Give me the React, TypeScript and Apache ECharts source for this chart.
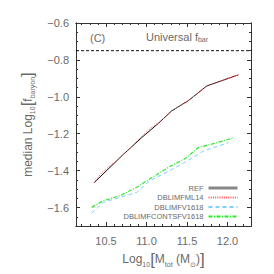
import React, { useEffect, useRef } from "react";
import * as echarts from "echarts";

const xRef = [10.352, 10.714, 10.941, 11.146, 11.311, 11.516, 11.744, 12.134];
const yRef = [-1.466, -1.312, -1.221, -1.144, -1.076, -1.021, -0.941, -0.881];
const xML14 = [10.352, 10.45, 10.714, 10.941, 11.05, 11.146, 11.311, 11.516, 11.744, 12.134];
const yML14 = [-1.466, -1.41, -1.315, -1.214, -1.17, -1.142, -1.078, -1.02, -0.943, -0.881];
const xV1618 = [10.324, 10.467, 10.673, 10.879, 11.044, 11.291, 11.476, 11.702, 12.015];
const yV1618 = [-1.63, -1.572, -1.545, -1.518, -1.454, -1.399, -1.354, -1.294, -1.248];
const xCont = [10.324, 10.467, 10.673, 10.879, 11.044, 11.291, 11.476, 11.64, 11.825, 12.072];
const yCont = [-1.599, -1.563, -1.536, -1.49, -1.444, -1.377, -1.335, -1.275, -1.254, -1.223];
const universalFbar = -0.75;

const xMin = 10.13;
const xMax = 12.29;
const yMin = -1.7;
const yMax = -0.6;
const xMajor = [10.5, 11.0, 11.5, 12.0];
const xMinor = [10.2, 10.3, 10.4, 10.6, 10.7, 10.8, 10.9, 11.1, 11.2, 11.3, 11.4, 11.6, 11.7, 11.8, 11.9, 12.1, 12.2];
const yMajor = [-1.6, -1.4, -1.2, -1.0, -0.8, -0.6];
const yMinor = [-1.65, -1.55, -1.5, -1.45, -1.35, -1.3, -1.25, -1.15, -1.1, -1.05, -0.95, -0.9, -0.85, -0.75, -0.7, -0.65];

const FONT = "Liberation Sans";
const TXT = "#6a6a6a";
const AX = "#333";

const zip = (xs: number[], ys: number[]) => xs.map((x, i) => [x, ys[i]]);

export default function App() {
  const ref = useRef<HTMLDivElement>(null);
  useEffect(() => {
    const chart = echarts.init(ref.current!, null, { renderer: "svg" });
    const rich = {
      sub: { fontSize: 7, color: TXT, fontFamily: FONT, verticalAlign: "bottom", padding: [8, 0, 0, 0] },
      br: { fontSize: 17, color: TXT, fontFamily: FONT },
    };
    const baseX = (pos: "bottom" | "top", ticks: number[], len: number, labels: boolean, name?: boolean) => ({
      type: "value",
      position: pos,
      min: xMin,
      max: xMax,
      axisLine: { show: true, onZero: false, lineStyle: { color: AX, width: 1 } },
      axisTick: { show: true, inside: true, length: len, customValues: ticks, lineStyle: { color: AX } },
      axisLabel: labels
        ? { show: true, customValues: ticks, margin: 9, color: TXT, fontFamily: FONT, fontSize: 11, formatter: (v: number) => v.toFixed(1) }
        : { show: false },
      splitLine: { show: false },
      name: name ? "Log{sub|10}{br|[}M{sub|tot} (M{sub|⊙}){br|]}" : "",
      nameLocation: "middle",
      nameGap: 22,
      nameTextStyle: { color: TXT, fontFamily: FONT, fontSize: 12, rich },
    });
    const baseY = (pos: "left" | "right", ticks: number[], len: number, labels: boolean, name?: boolean) => ({
      type: "value",
      position: pos,
      min: yMin,
      max: yMax,
      axisLine: { show: true, onZero: false, lineStyle: { color: AX, width: 1 } },
      axisTick: { show: true, inside: true, length: len, customValues: ticks, lineStyle: { color: AX } },
      axisLabel: labels
        ? {
            show: true,
            customValues: ticks,
            margin: 7,
            color: TXT,
            fontFamily: FONT,
            fontSize: 11,
            formatter: (v: number) => (v < 0 ? "\u2212" : "") + Math.abs(v).toFixed(1),
          }
        : { show: false },
      splitLine: { show: false },
      name: name ? "median Log{sub|10}{br|[}f{sub|baryon}{br|]}" : "",
      nameLocation: "middle",
      nameGap: 40,
      nameTextStyle: { color: TXT, fontFamily: FONT, fontSize: 12, rich },
    });
    const line = (name: string, data: number[][], color: string, type: any, width = 1) => ({
      name,
      type: "line",
      data,
      showSymbol: false,
      symbol: "none",
      xAxisIndex: 0,
      yAxisIndex: 0,
      lineStyle: { color, width, type },
      itemStyle: { color },
      z: 3,
    });
    chart.setOption({
      animation: false,
      grid: { left: 76, right: 23, top: 23, bottom: 48 },
      xAxis: [
        baseX("bottom", xMajor, 4, true, true),
        baseX("bottom", xMinor, 2, false),
        baseX("top", xMajor, 4, false),
        baseX("top", xMinor, 2, false),
      ],
      yAxis: [
        baseY("left", yMajor, 4, true, true),
        baseY("left", yMinor, 2, false),
        baseY("right", yMajor, 4, false),
        baseY("right", yMinor, 2, false),
      ],
      legend: {
        orient: "vertical",
        right: 35,
        top: 184,
        align: "right",
        itemWidth: 29,
        itemHeight: 6,
        itemGap: 1.5,
        padding: 0,
        itemStyle: { opacity: 0 },
        textStyle: { color: TXT, fontFamily: FONT, fontSize: 7.5, padding: [0, 0, 0, 0] },
        data: [
          { name: "REF", lineStyle: { color: "#888", width: 3 } },
          { name: "DBLIMFML14" },
          { name: "DBLIMFV1618" },
          { name: "DBLIMFCONTSFV1618" },
        ],
      },
      graphic: [
        { type: "text", left: 90, top: 32, style: { text: "(C)", fill: TXT, font: `11px "${FONT}"` } },
        {
          type: "text",
          left: 146,
          top: 31,
          style: {
            text: "Universal f{sub|bar}",
            fill: TXT,
            font: `11px "${FONT}"`,
            rich: { sub: { fontSize: 7, fill: TXT, fontFamily: FONT, verticalAlign: "bottom", padding: [6, 0, 0, 0] } },
          },
        },
      ],
      series: [
        {
          name: "fbar",
          type: "line",
          data: [[xMin, universalFbar], [xMax, universalFbar]],
          showSymbol: false,
          symbol: "none",
          lineStyle: { color: "#111", width: 1, type: [3, 2] },
          silent: true,
        },
        line("REF", zip(xRef, yRef), "#111", "solid", 1),
        line("DBLIMFML14", zip(xML14, yML14), "#ff5a5a", [1, 1.2], 1),
        line("DBLIMFV1618", zip(xV1618, yV1618), "#7ccfff", [4, 3], 1),
        line("DBLIMFCONTSFV1618", zip(xCont, yCont), "#2ee82e", [4, 1.5, 1, 1.5], 1.2),
      ],
    });
    return () => chart.dispose();
  }, []);
  return <div ref={ref} style={{ width: 274, height: 274, position: "absolute", left: 0, top: 0 }} />;
}
